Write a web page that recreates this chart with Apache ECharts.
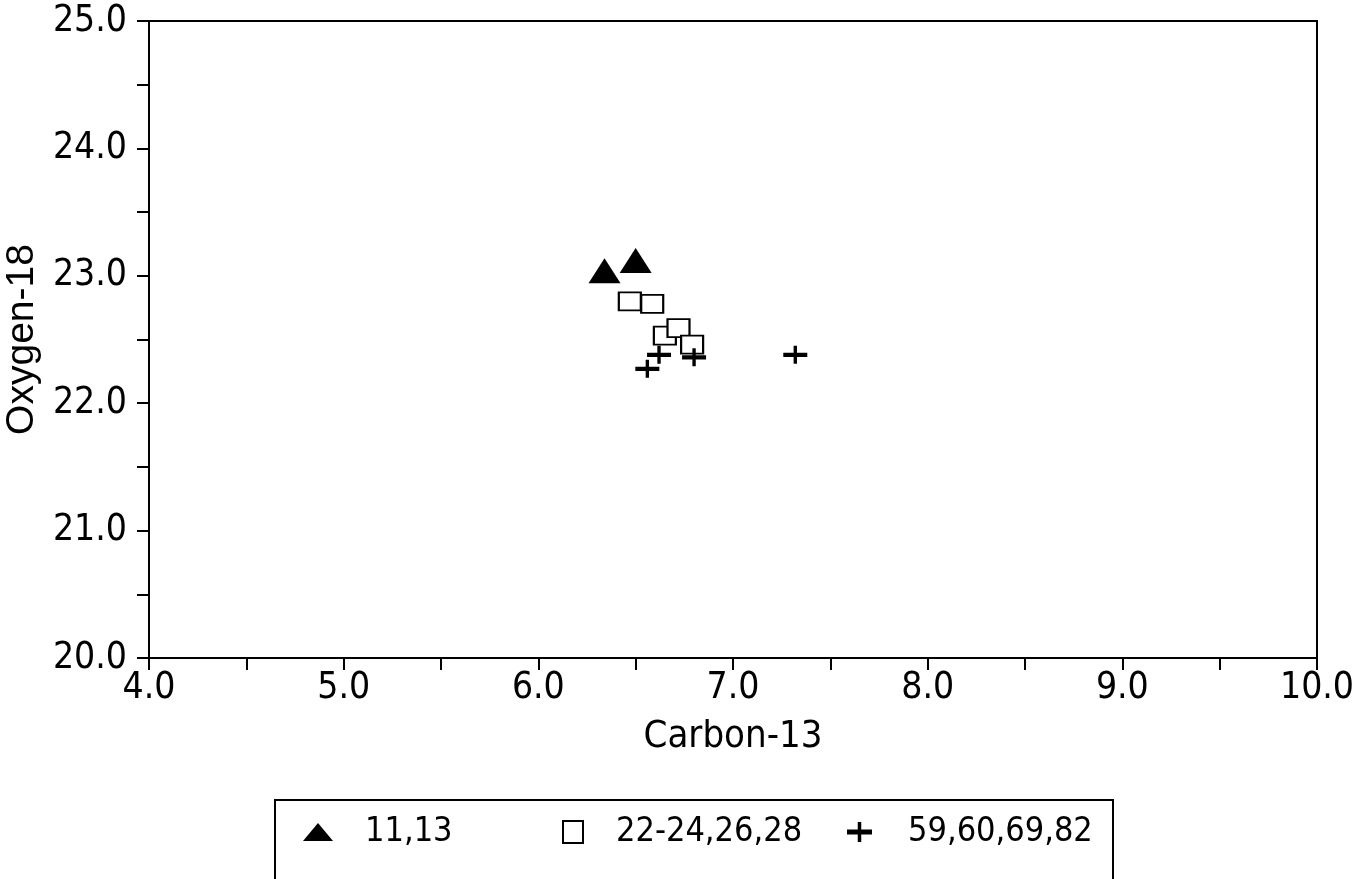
<!DOCTYPE html>
<html>
<head>
<meta charset="utf-8">
<script src="https://cdn.jsdelivr.net/npm/echarts@6/dist/echarts.min.js"></script>
<style>
  html, body { margin: 0; padding: 0; background: #fff; }
  #main { width: 1362px; height: 879px; }
</style>
</head>
<body>
<div id="main"></div>
<script>
let myChart = echarts.init(document.getElementById('main'));

// series names as shown in the legend
const groupNames = ['11,13', '22-24,26,28', '59,60,69,82'];

// [Carbon-13, Oxygen-18] pairs
const group1 = [[6.34, 23.04], [6.50, 23.12]];
const group2 = [[6.47, 22.80], [6.585, 22.78], [6.65, 22.53], [6.72, 22.59], [6.79, 22.46]];
const group3 = [[6.56, 22.27], [6.62, 22.38], [6.80, 22.36], [7.32, 22.38]];

const narrow = "'Liberation Sans Narrow', 'DejaVu Sans Condensed', 'Liberation Sans', sans-serif";
const plus = 'path://M0,38 L100,38 L100,62 L0,62 Z M43,0 L57,0 L57,100 L43,100 Z';

function legendAt(name, left, w, h, pad) {
  return {
    data: [name],
    left: left,
    top: 815,
    padding: 0,
    itemWidth: w,
    itemHeight: h,
    symbolKeepAspect: false,
    selectedMode: false,
    textStyle: { fontFamily: narrow, fontSize: 34, color: '#000', padding: [0, 0, 0, pad] }
  };
}

let option = {
  animation: false,
  backgroundColor: '#fff',
  grid: {
    left: 149,
    right: 45,
    top: 21,
    bottom: 221,
    outerBoundsMode: 'none',
    containLabel: false,
    show: true,
    borderColor: '#000',
    borderWidth: 2
  },
  xAxis: {
    type: 'value',
    min: 4,
    max: 10,
    interval: 1,
    name: 'Carbon-13',
    nameLocation: 'middle',
    nameGap: 60,
    nameTextStyle: { fontFamily: narrow, fontSize: 38, color: '#000' },
    axisLine: { lineStyle: { color: '#000', width: 2 } },
    axisTick: { show: true, length: 12, lineStyle: { color: '#000', width: 2 } },
    minorTick: { show: true, splitNumber: 2, length: 12, lineStyle: { color: '#000', width: 2 } },
    splitLine: { show: false },
    axisLabel: {
      margin: 12,
      color: '#000',
      fontFamily: narrow,
      fontSize: 37,
      formatter: v => v.toFixed(1)
    }
  },
  yAxis: {
    type: 'value',
    min: 20,
    max: 25,
    interval: 1,
    name: 'Oxygen-18',
    nameLocation: 'middle',
    nameGap: 100,
    nameTextStyle: { fontFamily: "'Liberation Sans', sans-serif", fontSize: 39, color: '#000' },
    axisLine: { lineStyle: { color: '#000', width: 2 } },
    axisTick: { show: true, length: 12, lineStyle: { color: '#000', width: 2 } },
    minorTick: { show: true, splitNumber: 2, length: 12, lineStyle: { color: '#000', width: 2 } },
    splitLine: { show: false },
    axisLabel: {
      margin: 22,
      color: '#000',
      fontFamily: narrow,
      fontSize: 37,
      formatter: v => v.toFixed(1)
    }
  },
  legend: [
    legendAt(groupNames[0], 303, 30, 18, 27),
    legendAt(groupNames[1], 562, 20, 22, 28),
    legendAt(groupNames[2], 847, 25, 20, 31)
  ],
  graphic: [
    {
      type: 'rect',
      shape: { x: 275, y: 800, width: 838, height: 140 },
      style: { fill: 'none', stroke: '#000', lineWidth: 2 }
    }
  ],
  series: [
    {
      name: groupNames[0],
      type: 'scatter',
      symbol: 'triangle',
      symbolSize: [32, 25],
      itemStyle: { color: '#000', opacity: 1 },
      data: group1
    },
    {
      name: groupNames[1],
      type: 'scatter',
      symbol: 'emptyRect',
      symbolSize: [22, 18],
      itemStyle: { color: '#000', borderColor: '#000', borderWidth: 2.5, opacity: 1 },
      data: group2
    },
    {
      name: groupNames[2],
      type: 'scatter',
      symbol: plus,
      symbolSize: [24, 18],
      itemStyle: { color: '#000', opacity: 1 },
      data: group3
    }
  ]
};

myChart.setOption(option);
</script>
</body>
</html>
